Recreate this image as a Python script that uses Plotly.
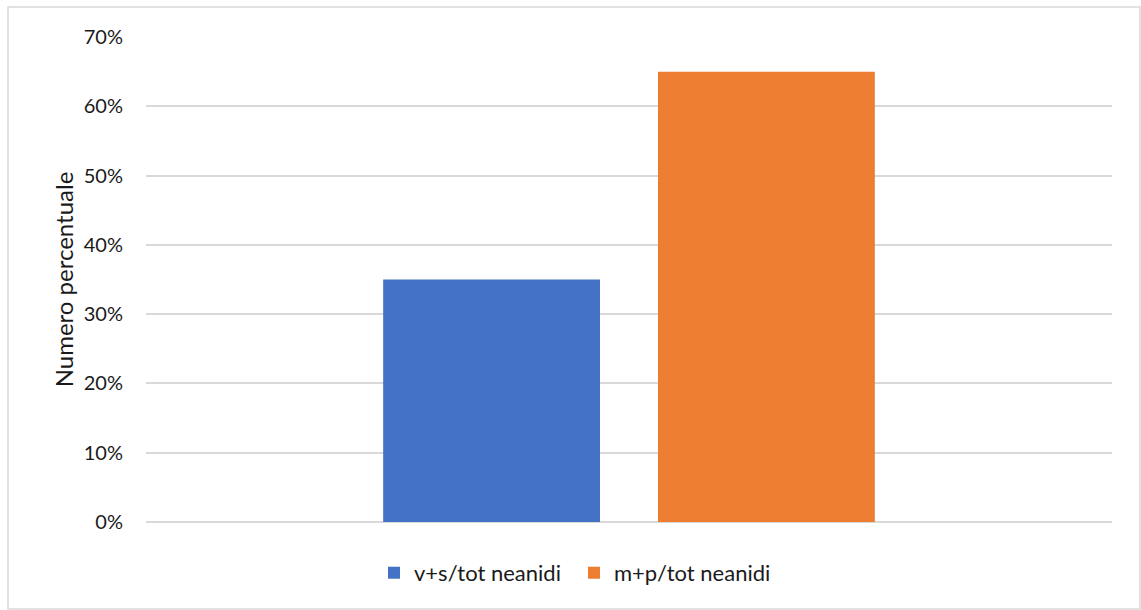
import plotly.graph_objects as go

categories = [""]
series_names = ["v+s/tot neanidi", "m+p/tot neanidi"]
series_values = [[0.35], [0.65]]
series_colors = ["#4472C4", "#ED7D31"]
y_ticks = [0, 0.1, 0.2, 0.3, 0.4, 0.5, 0.6, 0.7]
y_title = "Numero percentuale"

W, H = 1141, 610
ML, MR, MT, MB = 146, 29, 37, 88
pw, ph = W - ML - MR, H - MT - MB

fig = go.Figure()
for name, vals, col in zip(series_names, series_values, series_colors):
    fig.add_trace(go.Bar(x=categories, y=vals, name=name, marker=dict(color=col, line=dict(width=0))))

font = "Lato, Open Sans, sans-serif"
txt = "#1a1a1a"
fig.update_layout(
    width=W, height=H,
    margin=dict(l=ML, r=MR, t=MT, b=MB),
    paper_bgcolor="white", plot_bgcolor="white",
    barmode="group", bargap=0.431, bargroupgap=0.211,
    font=dict(family=font, size=20, color=txt),
    showlegend=True,
    legend=dict(orientation="h", x=(374 - ML) / pw, xanchor="left", y=-0.105, yanchor="middle",
                font=dict(size=22, color=txt), itemwidth=30, traceorder="normal",
                entrywidth=155, entrywidthmode="pixels"),
    xaxis=dict(showticklabels=False, showgrid=False, zeroline=False, showline=False, ticks=""),
    yaxis=dict(range=[0, 0.7], tickvals=y_ticks, tickformat=".0%",
               tickfont=dict(size=20, color=txt),
               showgrid=True, gridcolor="#d9d9d9", gridwidth=1.5,
               zeroline=True, zerolinecolor="#d9d9d9", zerolinewidth=1.5,
               showline=False, ticks="", ticklabelstandoff=22,
               title=dict(text=y_title, standoff=3, font=dict(size=24, color=txt))),
)

# chart border
fig.add_shape(type="rect", xref="paper", yref="paper",
              x0=(8 - ML) / pw, x1=(1140 - ML) / pw,
              y0=-(609 - (MT + ph)) / ph, y1=1 + (MT - 7) / ph,
              line=dict(color="#d9d9d9", width=1.5), fillcolor="rgba(0,0,0,0)", layer="below")

fig.write_html("out.html")
